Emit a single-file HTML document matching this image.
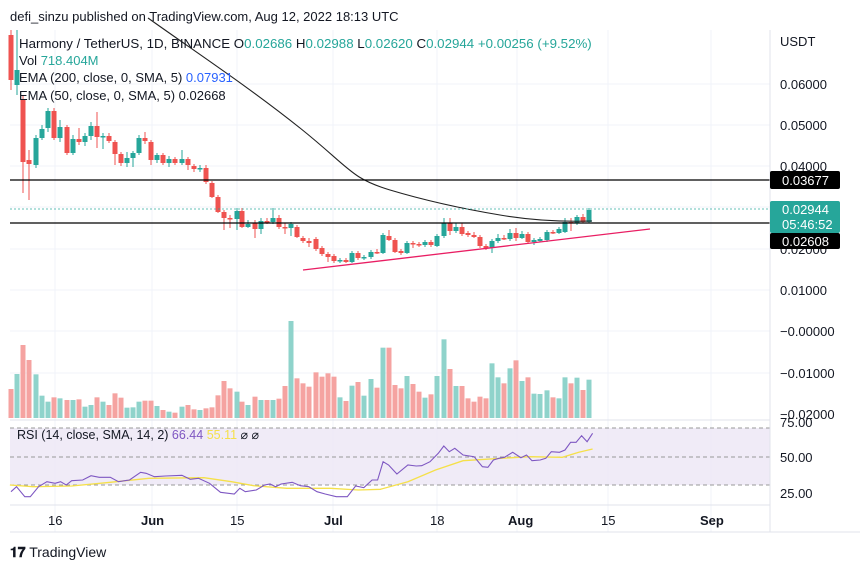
<!DOCTYPE html>
<html><head><meta charset="utf-8"><style>
body{margin:0;background:#fff;font-family:"Liberation Sans",sans-serif;}
svg{display:block}
text{font-family:"Liberation Sans",sans-serif}
</style></head><body>
<svg id="s" width="860" height="569" xmlns="http://www.w3.org/2000/svg">
<rect width="860" height="569" fill="#fff"/>
<g id="grid" stroke="#f0f3fa" stroke-width="1"></g>
<rect x="10" y="428" width="760" height="57" fill="#ede7f6" opacity="0.85"/>
<g stroke="#999" stroke-dasharray="4,3" stroke-width="1">
<line x1="10" y1="428" x2="770" y2="428"/><line x1="10" y1="457" x2="770" y2="457"/><line x1="10" y1="485" x2="770" y2="485"/></g>
<g id="vol"></g>
<g id="candles"></g>
<path fill="none" stroke="#222" stroke-width="1.1" d="M148,18 C200,55 250,88 300,128 S350,178 390,190 S470,210 500,215 S560,222 592,221"/>
<line x1="10" y1="180" x2="770" y2="180" stroke="#000" stroke-width="1.3"/>
<line x1="10" y1="223" x2="770" y2="223" stroke="#000" stroke-width="1.3"/>
<line x1="10" y1="209" x2="770" y2="209" stroke="#26a69a" stroke-dasharray="2,2" stroke-width="1" opacity="0.7"/>
<line x1="303" y1="270" x2="650" y2="229" stroke="#e91e63" stroke-width="1.3"/>
<polyline id="rsma" fill="none" stroke="#f5e04a" stroke-width="1.3"/>
<polyline id="rsi" fill="none" stroke="#7e57c2" stroke-width="1.1"/>
<line x1="770" y1="30" x2="770" y2="532" stroke="#e0e3eb"/>
<line x1="10" y1="420" x2="770" y2="420" stroke="#e0e3eb"/>
<line x1="10" y1="505" x2="770" y2="505" stroke="#e0e3eb"/>
<line x1="10" y1="532" x2="860" y2="532" stroke="#e0e3eb"/>
<g font-size="13" fill="#131722">
<text x="10" y="21">defi_sinzu published on TradingView.com, Aug 12, 2022 18:13 UTC</text>
<text x="19" y="48" font-size="13.3">Harmony / TetherUS, 1D, BINANCE  O<tspan fill="#26a69a">0.02686</tspan>  H<tspan fill="#26a69a">0.02988</tspan>  L<tspan fill="#26a69a">0.02620</tspan>  C<tspan fill="#26a69a">0.02944</tspan>  <tspan fill="#26a69a">+0.00256 (+9.52%)</tspan></text>
<text x="19" y="65">Vol  <tspan fill="#26a69a">718.404M</tspan></text>
<text x="19" y="82">EMA (200, close, 0, SMA, 5)  <tspan fill="#2962ff">0.07931</tspan></text>
<text x="19" y="100">EMA (50, close, 0, SMA, 5)  0.02668</text>
<text x="780" y="46">USDT</text>
<text x="780" y="89">0.06000</text><text x="780" y="130">0.05000</text><text x="780" y="171">0.04000</text>
<text x="780" y="254">0.02000</text><text x="780" y="295">0.01000</text><text x="780" y="336">−0.00000</text>
<text x="780" y="378">−0.01000</text><text x="780" y="419">−0.02000</text>
<text x="780" y="427">75.00</text><text x="780" y="462">50.00</text><text x="780" y="498">25.00</text>
<text x="48" y="525">16</text><text x="141" y="525" font-weight="bold">Jun</text><text x="230" y="525">15</text>
<text x="324" y="525" font-weight="bold">Jul</text><text x="430" y="525">18</text><text x="508" y="525" font-weight="bold">Aug</text>
<text x="601" y="525">15</text><text x="700" y="525" font-weight="bold">Sep</text>
<text x="17" y="439" font-size="12.5">RSI (14, close, SMA, 14, 2)  <tspan fill="#7e57c2">66.44</tspan>  <tspan fill="#f5e04a">55.11</tspan>  ⌀  ⌀</text>
</g>
<rect x="770" y="171" width="70" height="18" rx="2" fill="#000"/><text x="782" y="185" font-size="13" fill="#fff">0.03677</text>
<rect x="770" y="201" width="70" height="32" rx="2" fill="#26a69a"/><text x="782" y="214" font-size="13" fill="#fff">0.02944</text><text x="782" y="229" font-size="13" fill="#fff">05:46:52</text>
<rect x="770" y="233" width="70" height="16" rx="2" fill="#000"/><text x="782" y="246" font-size="13" fill="#fff">0.02608</text>
<text x="10" y="557" font-size="14" fill="#131722"><tspan font-weight="bold">𝟏𝟕</tspan> TradingView</text>
</svg>
<script>
var NS="http://www.w3.org/2000/svg";
function el(p,t,a){var e=document.createElementNS(NS,t);for(var k in a)e.setAttribute(k,a[k]);document.getElementById(p).appendChild(e);return e;}
[84,125,166,207,249,290,331,373].forEach(function(y){el("grid","line",{x1:10,y1:y,x2:770,y2:y});});
[55,152,237,333,437,517,608,711].forEach(function(x){el("grid","line",{x1:x,y1:30,x2:x,y2:532});});
var C=[[11,35,80,30,90],[17,85,70,30,95],[23,100,162,95,193],[29,160,164,150,200],[36,165,138,135,168],[42,138,129,125,140],[48,128,111,108,132],[54,111,138,108,140],[60,138,127,120,142],[67,127,153,125,155],[73,153,139,135,155],[79,139,142,128,145],[85,142,136,133,146],[91,136,126,122,140],[97,126,137,112,148],[103,137,136,133,149],[109,136,141,133,143],[115,142,154,140,165],[121,154,163,152,166],[127,163,158,152,167],[133,158,153,151,167],[139,153,138,135,155],[145,138,141,132,144],[151,142,160,140,165],[157,160,155,153,163],[163,155,163,153,165],[169,163,159,156,167],[175,159,163,157,165],[182,163,159,150,165],[188,159,165,157,170],[194,166,169,164,172],[200,169,168,165,172],[206,168,182,165,184],[212,183,197,181,198],[218,197,212,195,213],[224,212,218,210,230],[230,218,219,215,228],[237,219,211,208,230],[242,211,227,208,228],[248,227,224,220,228],[255,223,229,220,238],[261,229,221,218,234],[267,221,221,218,224],[273,222,218,208,224],[279,218,227,215,229],[285,227,228,223,234],[291,228,224,222,236],[297,227,237,225,238],[303,238,241,236,243],[309,241,243,238,247],[316,239,249,237,251],[322,248,254,246,256],[328,254,257,252,262],[334,256,261,254,263],[340,261,260,258,263],[346,260,262,258,263],[352,262,253,251,263],[358,253,258,251,260],[364,258,257,255,260],[371,257,252,250,259],[377,252,253,249,254],[383,253,235,233,254],[389,236,240,230,241],[395,240,252,238,253],[401,251,253,249,255],[407,253,243,241,254],[413,243,244,241,248],[419,244,245,242,247],[425,245,242,240,247],[431,242,245,240,247],[437,246,236,234,247],[444,236,223,218,238],[450,223,231,218,235],[456,231,227,223,233],[462,227,234,223,236],[468,233,235,231,237],[474,235,237,232,238],[480,237,246,235,248],[486,246,248,244,250],[492,248,241,239,253],[498,241,238,234,243],[504,238,238,235,240],[510,239,233,229,241],[516,233,238,228,241],[522,238,234,231,239],[528,234,242,232,244],[534,242,240,238,245],[540,241,239,237,242],[547,240,232,230,242],[553,232,233,230,234],[559,233,229,227,234],[565,232,222,218,233],[571,222,223,218,231],[577,223,217,215,225],[583,217,222,214,223],[589,222,210,208,223]];
C.forEach(function(c){var up=c[2]<c[1];var col=up?"#26a69a":"#ef5350";
el("candles","line",{x1:c[0],y1:c[3],x2:c[0],y2:c[4],stroke:col,"stroke-width":1});
var t=Math.min(c[1],c[2]),h=Math.max(1.5,Math.abs(c[1]-c[2]));
el("candles","rect",{x:c[0]-2.5,y:t,width:5,height:h,fill:col});});
var V=[207,162,75,120,163,227,245,232,235,240,240,238,260,255,232,245,255,220,233,263,262,245,242,242,258,270,275,278,260,255,268,270,265,262,226,183,205,215,245,255,230,240,240,240,236,198,3,175,190,200,157,170,160,170,232,243,197,186,227,177,203,83,83,195,205,168,192,215,233,223,168,58,147,198,198,235,245,230,235,130,172,190,145,121,183,172,221,222,211,232,235,172,190,173,210,179];
var off=C.length-V.length;
V.forEach(function(v,i){var c=C[i+off]||C[C.length-1];var up=c[2]<c[1];var x=11+i*6.03+off*6;
if(i+off<C.length)x=c[0];
el("vol","rect",{x:x-2.5,y:320+v/3,width:5,height:418-(320+v/3),fill:up?"#8fd3cb":"#f5a3a1"});});
function pl(id,a){var s=[];for(var i=0;i<a.length;i+=2)s.push((a[i]/1.814).toFixed(1)+","+(320+a[i+1]/3).toFixed(1));document.getElementById(id).setAttribute("points",s.join(" "));}
pl("rsi",[20,515,30,500,45,530,55,530,70,500,85,485,100,490,110,485,120,495,130,482,150,480,165,467,180,472,200,472,215,485,235,480,255,457,265,460,280,470,300,468,330,466,345,478,360,475,380,490,400,517,425,522,435,505,445,515,465,510,480,495,490,492,500,500,510,492,530,487,545,497,560,500,575,515,590,522,610,530,630,530,645,498,660,503,675,480,685,480,695,425,705,435,720,462,740,435,755,438,765,437,780,425,795,400,805,378,815,395,825,385,840,405,860,410,875,440,885,442,895,420,905,415,915,412,930,397,945,413,955,405,965,422,980,420,990,415,1000,395,1015,397,1025,390,1035,367,1045,367,1055,347,1065,365,1075,340]);
pl("rsma",[18,495,60,500,130,498,200,487,270,475,370,473,420,485,460,497,520,505,600,505,650,510,690,508,740,485,790,450,840,422,880,418,960,410,1020,412,1050,397,1075,387]);
</script>
</body></html>
